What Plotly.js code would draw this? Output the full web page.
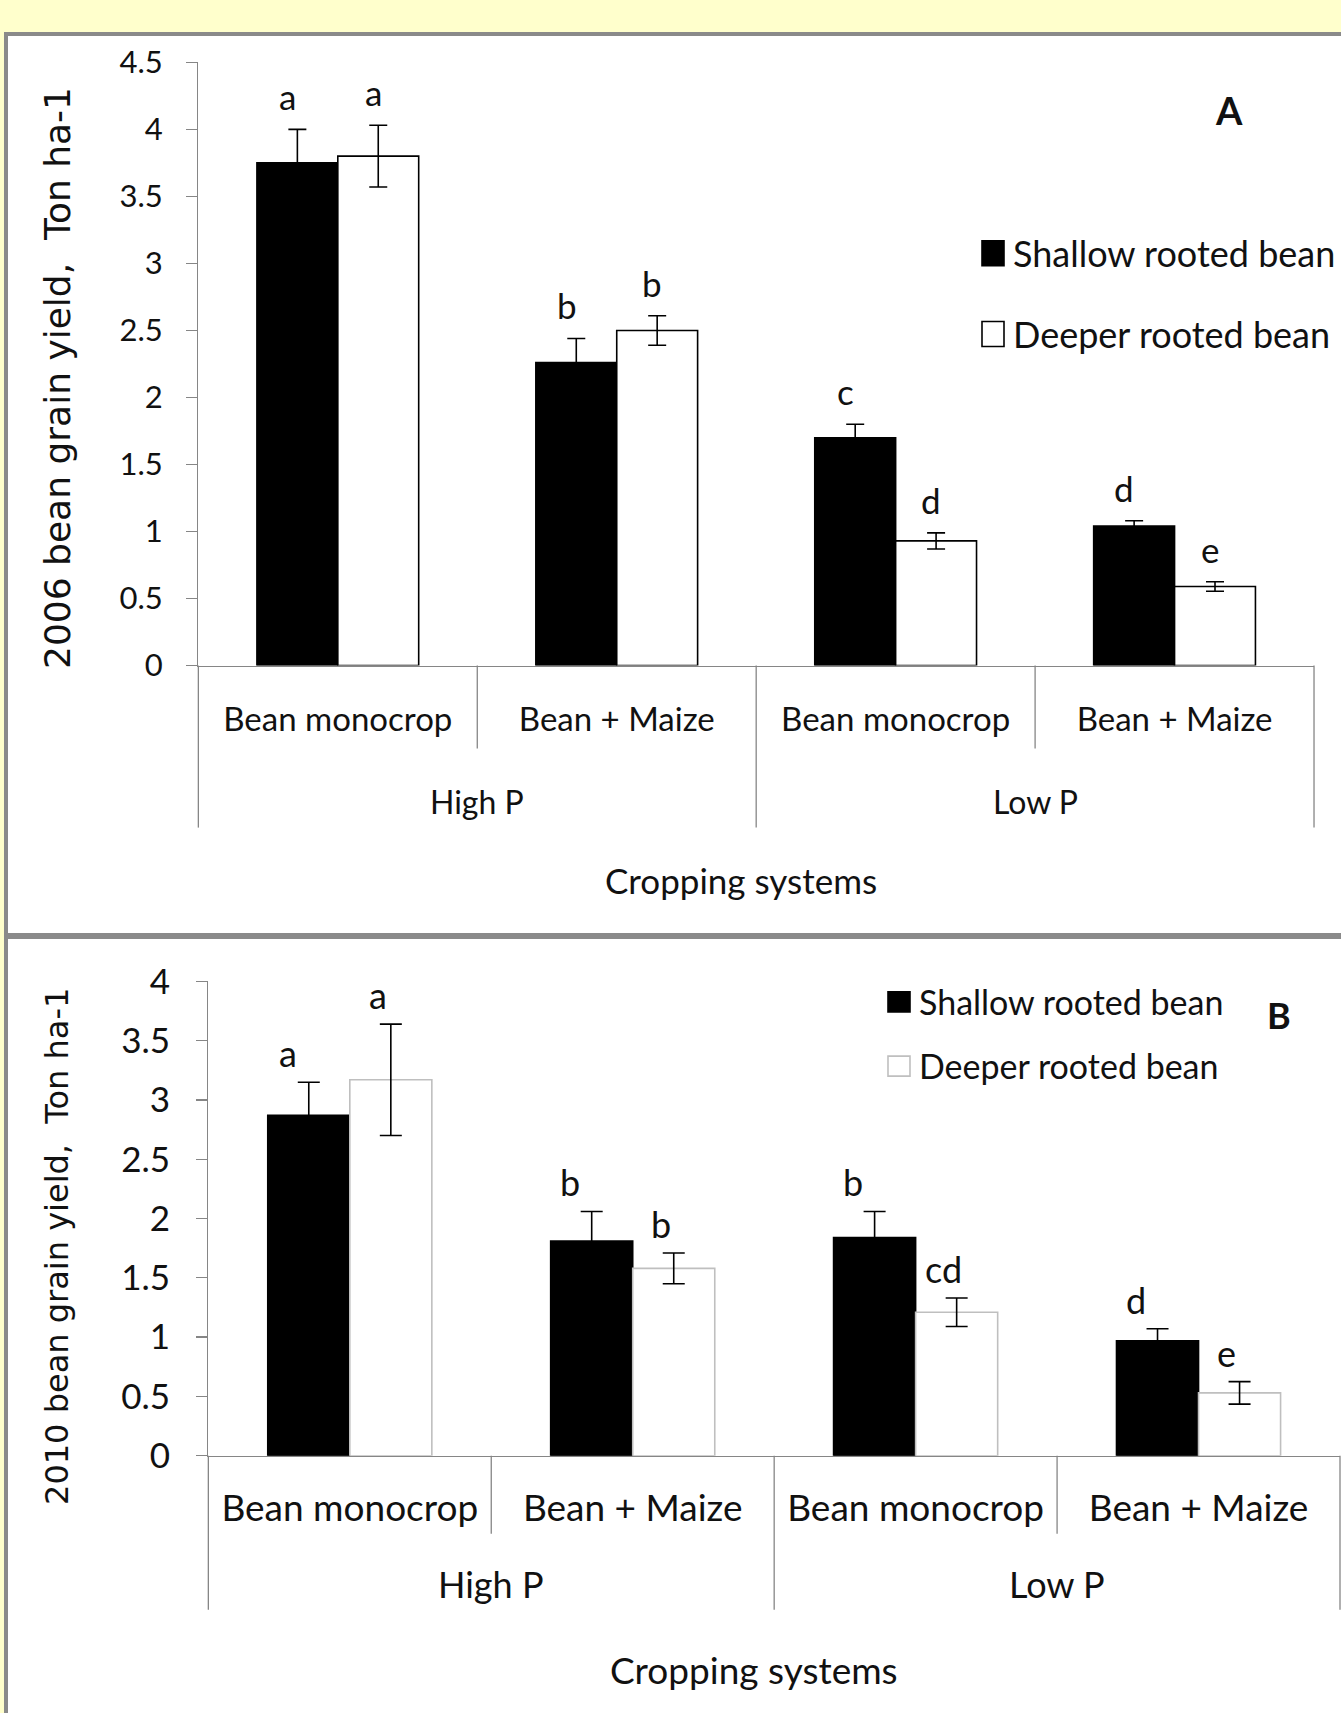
<!DOCTYPE html>
<html>
<head>
<meta charset="utf-8">
<script src="https://cdn.plot.ly/plotly-3.0.1.min.js"></script>
<style>
html,body{margin:0;padding:0;background:#FFFFCC;overflow:hidden;}
#chart{width:1341px;height:1713px;}
</style>
</head>
<body>
<div id="chart"></div>
<script>
// ---------------- DATA ----------------
const categories = ["Bean monocrop", "Bean + Maize", "Bean monocrop", "Bean + Maize"];
const categoryGroups = ["High P", "High P", "Low P", "Low P"];
const seriesNames = ["Shallow rooted bean", "Deeper rooted bean"];

const yield2006Shallow = [3.75, 2.26, 1.70, 1.04];
const err2006Shallow   = [0.25, 0.18, 0.10, 0.04];
const yield2006Deeper  = [3.80, 2.50, 0.93, 0.59];
const err2006Deeper    = [0.23, 0.11, 0.06, 0.035];
const letters2006Shallow = ["a", "b", "c", "d"];
const letters2006Deeper  = ["a", "b", "d", "e"];

const yield2010Shallow = [2.87, 1.81, 1.84, 0.97];
const err2010Shallow   = [0.28, 0.25, 0.22, 0.10];
const yield2010Deeper  = [3.17, 1.58, 1.21, 0.53];
const err2010Deeper    = [0.47, 0.13, 0.12, 0.095];
const letters2010Shallow = ["a", "b", "b", "d"];
const letters2010Deeper  = ["a", "b", "cd", "e"];

const yTitle2006 = "2006 bean grain yield,  Ton ha-1";
const yTitle2010 = "2010 bean grain yield,  Ton ha-1";
const xTitle = "Cropping systems";

// ---------------- LAYOUT HELPERS ----------------
const W = 1341, H = 1713;
const px = v => v / W;
const py = v => 1 - v / H;
const fontS = "Lato, 'Open Sans', sans-serif";
const fontT = "'DejaVu Sans', Verdana, sans-serif";
const axisGrey = '#868686';
const ink = '#111111';
const xIdx = categories.map((_, i) => i);

const P = {
  A: {xa: 'x', ya: 'y', xl: 198.5, xr: 1315, y0: 665.6, yt: 62.3, inner: 83, outer: 162,
      groupY: 801, xt: [742, 880], yTitle: [57, 378], tag: [1230, 110],
      tick: 31, cat: 33, group: 32, letter: 35, titleSize: 36, xtSize: 35, tagSize: 38,
      letterDx: [-0.18, 0.127], letterShift: 33, capW: 9, bw: 1.6},
  B: {xa: 'x2', ya: 'y2', xl: 208.5, xr: 1341, y0: 1455.7, yt: 981.4, inner: 78, outer: 154,
      groupY: 1583.6, xt: [755, 1669], yTitle: [57, 1246], tag: [1280, 1015],
      tick: 35, cat: 37, group: 36, letter: 36, titleSize: 32, xtSize: 37, tagSize: 36,
      letterDx: [-0.22, 0.10], letterShift: 29, capW: 11, bw: 1.6}
};

// ---------------- TRACES ----------------
function barTrace(p, name, y, err, fill, lineColor, legend, group) {
  return {
    type: 'bar', name: name, x: xIdx, y: y, xaxis: p.xa, yaxis: p.ya,
    marker: {color: fill, line: {color: lineColor, width: p.bw}},
    error_y: {type: 'data', array: err, visible: true, color: '#000', thickness: 1.6, width: p.capW},
    legend: legend, legendgroup: group, hoverinfo: 'y'
  };
}
const traces = [
  barTrace(P.A, seriesNames[0], yield2006Shallow, err2006Shallow, '#000000', '#000000', 'legend', 'a1'),
  barTrace(P.A, seriesNames[1], yield2006Deeper,  err2006Deeper,  '#ffffff', '#000000', 'legend', 'a2'),
  barTrace(P.B, seriesNames[0], yield2010Shallow, err2010Shallow, '#000000', '#000000', 'legend2', 'b1'),
  barTrace(P.B, seriesNames[1], yield2010Deeper,  err2010Deeper,  '#ffffff', '#BFBFBF', 'legend2', 'b2')
];

// ---------------- SHAPES / ANNOTATIONS ----------------
const shapes = [
  {type: 'rect', xref: 'paper', yref: 'paper', x0: px(6), x1: 1.02, y0: py(935), y1: py(34),
   fillcolor: '#ffffff', line: {color: '#8a8a8a', width: 4}, layer: 'below'},
  {type: 'rect', xref: 'paper', yref: 'paper', x0: px(6), x1: 1.02, y0: -0.02, y1: py(937),
   fillcolor: '#ffffff', line: {color: '#8a8a8a', width: 4}, layer: 'below'}
];
const annotations = [];

function decorate(p, lettersS, lettersD, valS, errS, valD, errD, yTitle, tag) {
  const yBase = py(p.y0);
  for (let i = 0; i <= categories.length; i++) {
    const isEdge = (i === 0 || i === categories.length);
    const isGroup = isEdge || categoryGroups[i] !== categoryGroups[i - 1];
    const len = isGroup ? p.outer : p.inner;
    const s = {type: 'line', yref: 'paper', y0: yBase, y1: py(p.y0 + len),
               line: {color: axisGrey, width: 1.3}};
    if (i === 0) { s.xref = p.xa + ' domain'; s.x0 = 0; s.x1 = 0; }
    else if (i === categories.length) { s.xref = p.xa + ' domain'; s.x0 = 1; s.x1 = 1; }
    else { s.xref = p.xa; s.x0 = i - 0.5; s.x1 = i - 0.5; }
    shapes.push(s);
  }
  const seen = [];
  categoryGroups.forEach(g => { if (seen.indexOf(g) < 0) seen.push(g); });
  seen.forEach(g => {
    const idx = xIdx.filter(i => categoryGroups[i] === g);
    const c = idx.reduce((a, b) => a + b, 0) / idx.length;
    annotations.push({xref: p.xa, yref: 'paper', x: c, y: py(p.groupY), text: g, showarrow: false,
      xanchor: 'center', yanchor: 'middle', font: {family: fontS, size: p.group, color: ink}});
  });
  xIdx.forEach(i => {
    annotations.push({xref: p.xa, yref: p.ya, x: i + p.letterDx[0], y: valS[i] + errS[i], yshift: p.letterShift,
      text: lettersS[i], showarrow: false, xanchor: 'center', yanchor: 'middle',
      font: {family: fontS, size: p.letter, color: ink}});
    annotations.push({xref: p.xa, yref: p.ya, x: i + p.letterDx[1], y: valD[i] + errD[i], yshift: p.letterShift,
      text: lettersD[i], showarrow: false, xanchor: 'center', yanchor: 'middle',
      font: {family: fontS, size: p.letter, color: ink}});
  });
  annotations.push({xref: 'paper', yref: 'paper', x: px(p.yTitle[0]), y: py(p.yTitle[1]), text: yTitle,
    textangle: -90, showarrow: false, xanchor: 'center', yanchor: 'middle',
    font: {family: fontT, size: p.titleSize, color: ink}});
  annotations.push({xref: 'paper', yref: 'paper', x: px(p.xt[0]), y: py(p.xt[1]), text: xTitle,
    showarrow: false, xanchor: 'center', yanchor: 'middle',
    font: {family: fontS, size: p.xtSize, color: ink}});
  annotations.push({xref: 'paper', yref: 'paper', x: px(p.tag[0]), y: py(p.tag[1]), text: '<b>' + tag + '</b>',
    showarrow: false, xanchor: 'center', yanchor: 'middle',
    font: {family: fontS, size: p.tagSize, color: ink}});
}
decorate(P.A, letters2006Shallow, letters2006Deeper, yield2006Shallow, err2006Shallow, yield2006Deeper, err2006Deeper, yTitle2006, 'A');
decorate(P.B, letters2010Shallow, letters2010Deeper, yield2010Shallow, err2010Shallow, yield2010Deeper, err2010Deeper, yTitle2010, 'B');

function xAxis(p, anchor, standoff) {
  return {domain: [px(p.xl), Math.min(1, px(p.xr))], anchor: anchor, range: [-0.5, categories.length - 0.5],
    tickmode: 'array', tickvals: xIdx, ticktext: categories, ticks: '', showline: true,
    linecolor: axisGrey, linewidth: 1.3, showgrid: false, zeroline: false, fixedrange: true,
    tickfont: {family: fontS, size: p.cat, color: ink}, ticklabelstandoff: standoff};
}
function yAxis(p, anchor, top, ticklen, standoff) {
  return {domain: [py(p.y0), py(p.yt)], anchor: anchor, range: [0, top], tickmode: 'linear', tick0: 0, dtick: 0.5,
    ticks: 'outside', ticklen: ticklen, tickwidth: 1.3, tickcolor: axisGrey, showline: true,
    linecolor: axisGrey, linewidth: 1.3, showgrid: false, zeroline: false, fixedrange: true,
    tickfont: {family: fontS, size: p.tick, color: ink}, ticklabelstandoff: standoff};
}

const layout = {
  width: W, height: H, autosize: false, margin: {l: 0, r: 0, t: 0, b: 0},
  paper_bgcolor: '#FFFFCC', plot_bgcolor: 'rgba(0,0,0,0)',
  barmode: 'group', bargap: 0.42, bargroupgap: 0,
  showlegend: true,
  xaxis: xAxis(P.A, 'y', 24),
  yaxis: yAxis(P.A, 'x', 4.5, 11, 17),
  xaxis2: xAxis(P.B, 'y2', 20),
  yaxis2: yAxis(P.B, 'x2', 4, 11, 19),
  legend: {x: px(974), y: py(223.3), xanchor: 'left', yanchor: 'top', bgcolor: 'rgba(0,0,0,0)',
    font: {family: fontS, size: 36, color: ink}, traceorder: 'grouped', tracegroupgap: 31},
  legend2: {x: px(879), y: py(973.3), xanchor: 'left', yanchor: 'top', bgcolor: 'rgba(0,0,0,0)',
    font: {family: fontS, size: 34, color: ink}, traceorder: 'grouped', tracegroupgap: 17},
  shapes: shapes,
  annotations: annotations
};

// enlarge the legend swatches to the size used in the original figure
function enlargeSwatches() {
  document.querySelectorAll('g.legendpoints path').forEach(function (el) {
    const inSecond = !!el.closest('.legend2');
    const w = 11, h = inSecond ? 10 : 12.5;
    el.setAttribute('d', 'M' + w + ',' + h + 'H' + (-w) + 'V' + (-h) + 'H' + w + 'Z');
  });
}

const gd = document.getElementById('chart');
Plotly.newPlot(gd, traces, layout, {displayModeBar: false, staticPlot: true}).then(function () {
  enlargeSwatches();
  if (gd.on) gd.on('plotly_afterplot', enlargeSwatches);
});
setTimeout(enlargeSwatches, 30);
setTimeout(enlargeSwatches, 300);
</script>
</body>
</html>
